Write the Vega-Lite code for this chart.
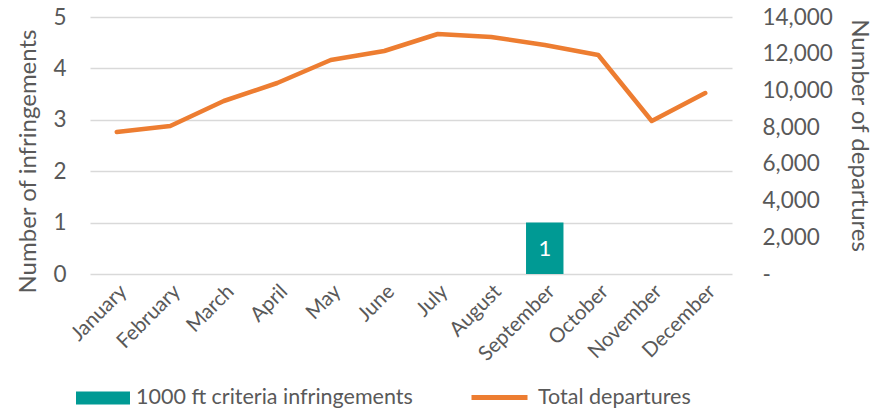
{
  "$schema": "https://vega.github.io/schema/vega-lite/v6.json",
  "autosize": {"type": "none"},
  "width": 642,
  "height": 257,
  "padding": {"left": 90, "top": 17, "right": 155, "bottom": 134},
  "config": {
    "view": {"stroke": null},
    "font": "Lato",
    "axis": {"labelColor": "#595959", "titleColor": "#595959", "labelFont": "Lato", "titleFont": "Lato", "titleFontWeight": "normal"},
    "legend": {"labelColor": "#595959", "labelFont": "Lato"}
  },
  "data": {
    "values": [
      {"month": "January", "infringements": null, "departures": 7735},
      {"month": "February", "infringements": null, "departures": 8062},
      {"month": "March", "infringements": null, "departures": 9424},
      {"month": "April", "infringements": null, "departures": 10405},
      {"month": "May", "infringements": null, "departures": 11658},
      {"month": "June", "infringements": null, "departures": 12148},
      {"month": "July", "infringements": null, "departures": 13074},
      {"month": "August", "infringements": null, "departures": 12911},
      {"month": "September", "infringements": 1, "departures": 12475},
      {"month": "October", "infringements": null, "departures": 11930},
      {"month": "November", "infringements": null, "departures": 8335},
      {"month": "December", "infringements": null, "departures": 9860}
    ]
  },
  "encoding": {
    "x": {
      "field": "month", "type": "nominal",
      "sort": ["January","February","March","April","May","June","July","August","September","October","November","December"],
      "scale": {"paddingInner": 0.3, "paddingOuter": 0.15},
      "axis": {"title": null, "labelAngle": -45, "labelFontSize": 20.5, "domain": false, "ticks": false, "labelPadding": 7}
    }
  },
  "layer": [
    {
      "transform": [{"filter": "datum.infringements != null"}, {"calculate": "'1000 ft criteria infringements'", "as": "s1"}],
      "encoding": {
        "y": {
          "field": "infringements", "type": "quantitative",
          "scale": {"domain": [0, 5]},
          "axis": {"title": "Number of infringements", "titleFontSize": 24, "labelFontSize": 22.5, "values": [0,1,2,3,4,5], "labelOverlap": false, "domain": false, "ticks": false, "labelPadding": 24, "gridColor": "#d9d9d9", "gridWidth": 1.5, "titlePadding": 12, "titleY": 144}
        }
      },
      "layer": [
        {
          "mark": {"type": "bar"},
          "encoding": {
            "fill": {
              "field": "s1", "type": "nominal",
              "scale": {"range": ["#009a94"]},
              "legend": {"title": null, "orient": "none", "legendX": -14, "legendY": 354, "symbolType": "M-1,-0.24L1,-0.24L1,0.24L-1,0.24Z", "symbolSize": 2916, "symbolStrokeWidth": 0, "labelFontSize": 21.5, "labelOffset": 6, "labelLimit": 400}
            }
          }
        },
        {
          "mark": {"type": "text", "color": "white", "fontSize": 22, "baseline": "middle", "font": "Lato", "dy": 26},
          "encoding": {
            "text": {"field": "infringements", "type": "quantitative"}
          }
        }
      ]
    },
    {
      "transform": [{"calculate": "'Total departures'", "as": "s2"}],
      "mark": {"type": "line", "strokeWidth": 4.5, "strokeCap": "round", "strokeJoin": "round"},
      "encoding": {
        "y": {
          "field": "departures", "type": "quantitative",
          "scale": {"domain": [0, 14000]},
          "axis": {"orient": "right", "title": "Number of departures", "titleFontSize": 24, "labelFontSize": 22.5, "values": [0,2000,4000,6000,8000,10000,12000,14000], "labelOverlap": false, "labelExpr": "datum.value == 0 ? '-' : format(datum.value, ',')", "domain": false, "ticks": false, "grid": false, "labelPadding": 30, "titlePadding": 14, "titleY": 118}
        },
        "stroke": {
          "field": "s2", "type": "nominal",
          "scale": {"range": ["#ed7d31"]},
          "legend": {"title": null, "orient": "none", "legendX": 379, "legendY": 350, "symbolType": "stroke", "symbolSize": 3136, "symbolStrokeWidth": 5, "labelFontSize": 21.5, "labelOffset": 8, "labelLimit": 400}
        }
      }
    }
  ],
  "resolve": {"scale": {"y": "independent", "fill": "independent", "stroke": "independent"}}
}
